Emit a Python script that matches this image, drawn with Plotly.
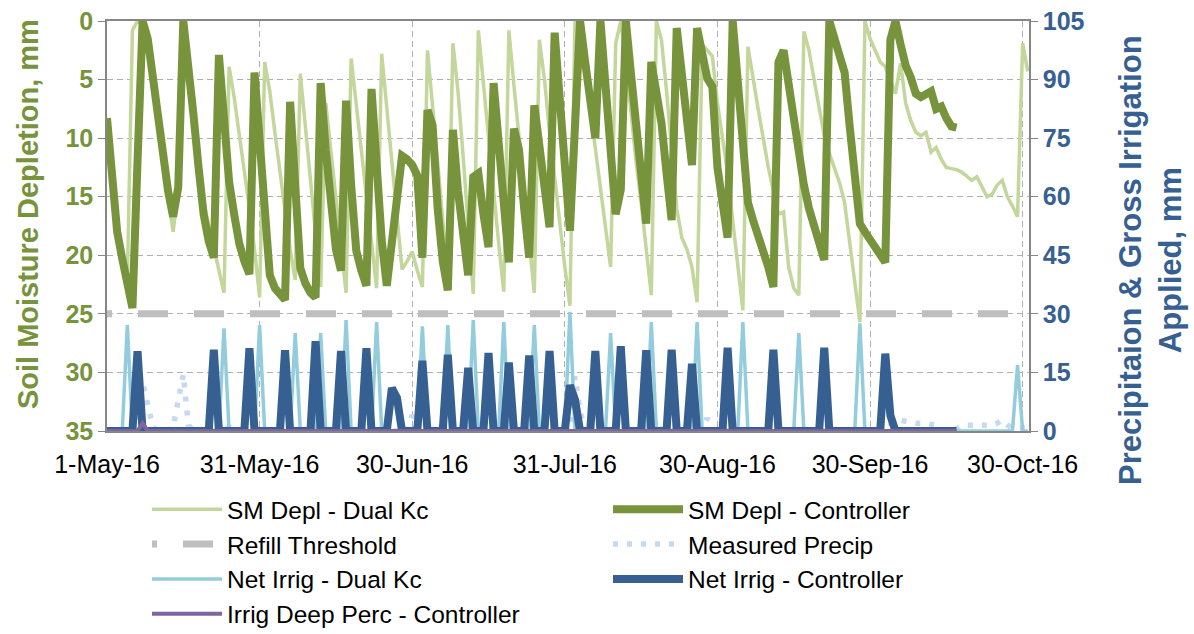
import plotly.graph_objects as go

# ---------------- data ----------------
tick_positions = [0, 30, 60, 90, 120, 150, 180]
tick_labels = ["1-May-16", "31-May-16", "30-Jun-16", "31-Jul-16",
               "30-Aug-16", "30-Sep-16", "30-Oct-16"]

# Soil moisture depletion, mm (left axis) - one value per day
sm_depl_dual = [8.3, 14, 18, 20.3, 22, 0.8, 0, 0.3, 2, 5.5,
                9, 12, 15, 18, 14.5, 0, 3.5, 8, 12, 15.5,
                17.5, 19.3, 21.3, 23.2, 3.9, 6.5, 9.7, 12.7, 16, 19.5,
                23.6, 3.5, 6, 9.5, 13, 16.5, 19.5, 22.1, 4.5, 9,
                13.5, 18, 22.7, 7, 11, 15, 19, 23.2, 3.2, 7,
                11, 15, 19, 22.8, 2.8, 7.4, 12, 16.6, 21.2, 20.5,
                19.7, 21.3, 22.7, 2.5, 7, 12, 17, 22, 1.9, 6,
                11.5, 17.5, 23.3, 0.8, 5.5, 10, 14.5, 19, 23.1, 0.8,
                5.5, 10, 14.5, 19, 23.2, 1.6, 5, 9.5, 13.5, 17.5,
                21, 24.3, 0, 1.5, 4, 7.5, 11, 14.5, 18, 21,
                1.9, 0, 3.5, 8, 12, 15.5, 19.5, 23.4, 0, 1.6,
                6, 11, 16, 18.5, 19.5, 21, 24, 2, 2.5, 3,
                7, 10, 13, 17, 21, 24.7, 2.2, 5, 7.5, 10,
                12.5, 14.5, 16.5, 16.3, 21, 22.8, 23.4, 0.9, 2.5, 5,
                7.5, 9.8, 11.3, 12.5, 13.8, 15.5, 19, 22.5, 25.7, 0,
                1.5, 2.5, 3.5, 3.9, 5, 6.2, 3.6, 7, 8.5, 9.5,
                9.8, 9.5, 11.2, 10.8, 11.8, 12.5, 12.6, 12.7, 12.9, 13.3,
                13.6, 13.3, 14.2, 15, 14.8, 14, 13.6, 15, 15.8, 16.7,
                1.9, 4.3]

sm_depl_ctrl = [8.3, 14, 18, 20.3, 22.5, 24.5, 12, 0, 1.5, 5,
                8.5, 11.5, 14.5, 16.7, 14.2, 0, 3.5, 8, 12.5, 16.5,
                18.8, 20.2, 2.9, 8.5, 13.7, 16.5, 19, 20.5, 21.6, 4.4,
                10, 16, 21.7, 22.8, 23.4, 23.8, 6.9, 14, 21.1, 22.4,
                23.2, 23.6, 5.3, 11, 16.2, 19.5, 21.3, 6.8, 14, 19.6,
                21.3, 22.6, 5.8, 13, 18.7, 22.6, 18.5, 14.4, 11.5, 11.8,
                12.3, 13.2, 20.2, 7.6, 8.9, 16, 20.5, 23, 9.3, 14.5,
                18.5, 21.7, 13.3, 13, 16.5, 19.3, 5.3, 11, 16, 20.6,
                9.2, 11, 16, 20.2, 7.2, 11, 14.5, 17.6, 1.0, 7,
                12.5, 17.9, 9, 0, 3.5, 7, 10, 0, 5.5, 11,
                16.5, 14.4, 0, 4.5, 9, 13, 17.3, 3.5, 6, 8.7,
                13, 17, 0.6, 4.5, 8.5, 12.3, 0.6, 3, 4.9, 5.6,
                12.5, 15.5, 18.5, 0, 5, 10, 15.5, 17, 18.3, 19.2,
                21, 22.7, 3.5, 2.5, 5.5, 8.7, 11.8, 14, 16, 17.5,
                19, 20.4, 0, 1.5, 3, 4.4, 9, 13.5, 17.3, 18,
                18.6, 19.3, 20, 20.6, 1.6, 0, 2, 3.8, 4.8, 6.2,
                6.5, 6.3, 6.0, 7.5, 7.3, 8.3, 9, 9.1]

refill_threshold_mm = 25

# Right axis (mm): event days and amounts, zero on all other days
precip_days = [7, 8, 9, 12, 13, 14, 15, 16, 24, 60, 92, 93, 108, 118,
               154, 155, 156, 157, 158, 159, 160, 161, 162, 163, 164,
               167, 168, 169, 170, 171, 172, 173, 174, 175, 176, 177,
               178, 179, 180, 181]
precip_mm = [12.5, 6.5, 1, 0.3, 1, 8, 14.5, 1.5, 1, 4.1, 14, 5, 2, 3.3,
             1.5, 2.3, 2.8, 2.5, 2.2, 2, 2, 1.8, 1.6, 1.5, 0.5,
             0.5, 1.5, 1.5, 1.5, 1.5, 1.5, 1.5, 1.5, 2, 2.8, 1.5,
             0.8, 0.8, 0.8, 0.8]

irrig_dual_days = [4, 23, 30, 37, 42, 47, 53, 62, 67, 72, 78, 84, 91, 99,
                   107, 116, 125, 136, 148, 179]
irrig_dual_mm = [27.1, 26.3, 27.1, 25.1, 25.1, 28.4, 27.9, 26.8, 27.1, 28.4,
                 27.9, 27.1, 30.5, 25.1, 27.9, 27.9, 27.9, 25.1, 27.6, 16.9]

irrig_ctrl_days = [6, 21, 28, 35, 41, 46, 51, 56, 57, 62, 67, 71, 75, 79,
                   83, 87, 91, 92, 96, 101, 106, 111, 115, 122, 131, 141,
                   153, 154]
irrig_ctrl_mm = [20.4, 20.8, 21.2, 20.7, 23, 20.5, 21.2, 11, 8.5, 18, 19.5,
                 16.2, 20, 17.5, 19.3, 20.5, 11.7, 8, 20.5, 21.7, 20.7,
                 20.8, 17.2, 21.3, 20.8, 21.3, 19.8, 4]

deep_perc_days = [7]
deep_perc_mm = [2]

# ---------------- build full daily series ----------------
n_dual = len(sm_depl_dual)
n_ctrl = len(sm_depl_ctrl)
days_dual = list(range(n_dual))
days_ctrl = list(range(n_ctrl))


def daily(n, days, vals):
    out = [0.0] * n
    for d, v in zip(days, vals):
        out[d] = v
    return out


precip = daily(n_dual, precip_days, precip_mm)
irrig_dual = daily(n_dual, irrig_dual_days, irrig_dual_mm)
irrig_ctrl = daily(n_ctrl, irrig_ctrl_days, irrig_ctrl_mm)
deep_perc = daily(n_ctrl, deep_perc_days, deep_perc_mm)
threshold = [refill_threshold_mm] * n_dual

C_LG = "#c3d69b"
C_DG = "#77933c"
C_GRAY = "#bfbfbf"
C_PRE = "#c6d9f1"
C_LB = "#93cddd"
C_DB = "#376092"
C_PU = "#8064a2"

thr_dash = "5px,26px," + ",".join(["30px,26px"] * 18)

fig = go.Figure()
fig.add_trace(go.Scatter(x=days_dual, y=sm_depl_dual, mode="lines",
                         name="SM Depl - Dual Kc", legend="legend",
                         line=dict(color=C_LG, width=3.5)))
fig.add_trace(go.Scatter(x=days_ctrl, y=sm_depl_ctrl, mode="lines",
                         name="SM Depl - Controller", legend="legend2",
                         line=dict(color=C_DG, width=8)))
fig.add_trace(go.Scatter(x=days_dual, y=threshold, mode="lines",
                         name="Refill Threshold", legend="legend",
                         line=dict(color=C_GRAY, width=7, dash=thr_dash)))
fig.add_trace(go.Scatter(x=days_dual, y=precip, mode="lines", yaxis="y2",
                         name="Measured Precip", legend="legend2",
                         line=dict(color=C_PRE, width=5.5, dash="5px,9px")))
fig.add_trace(go.Scatter(x=days_dual, y=irrig_dual, mode="lines", yaxis="y2",
                         name="Net Irrig - Dual Kc", legend="legend",
                         line=dict(color=C_LB, width=3.5)))
fig.add_trace(go.Scatter(x=days_ctrl, y=irrig_ctrl, mode="lines", yaxis="y2",
                         name="Net Irrig - Controller", legend="legend2",
                         line=dict(color=C_DB, width=8)))
fig.add_trace(go.Scatter(x=days_ctrl, y=deep_perc, mode="lines", yaxis="y2",
                         name="Irrig Deep Perc - Controller", legend="legend",
                         line=dict(color=C_PU, width=4)))

GRID = "#b0b0b0"
AXL = "#868686"
FONT = "Liberation Sans, Arial, sans-serif"

leg_common = dict(orientation="v", xanchor="left", yanchor="top",
                  bgcolor="rgba(0,0,0,0)", font=dict(size=24.5, color="black"),
                  itemwidth=70, tracegroupgap=0)

fig.update_layout(
    width=1194, height=634,
    margin=dict(l=107, r=165, t=21, b=203, autoexpand=False),
    plot_bgcolor="white", paper_bgcolor="white",
    font=dict(family=FONT, size=24, color="black"),
    showlegend=True,
    xaxis=dict(range=[0, 181.25], tickvals=tick_positions, ticktext=tick_labels,
               showgrid=True, gridcolor=GRID, griddash="6px,4px", gridwidth=1.3,
               showline=True, linecolor=AXL, linewidth=1.5, mirror=True,
               ticks="outside", ticklen=10, tickcolor="rgba(0,0,0,0)",
               tickfont=dict(size=25, color="black"), zeroline=False),
    yaxis=dict(range=[35, 0], tickvals=[0, 5, 10, 15, 20, 25, 30, 35],
               showgrid=True, gridcolor=GRID, griddash="6px,4px", gridwidth=1.3,
               showline=True, linecolor=AXL, linewidth=1.5,
               ticks="outside", ticklen=7, tickcolor=AXL,
               tickfont=dict(size=25, color=C_DG, weight="bold"), zeroline=False),
    yaxis2=dict(range=[0, 105], tickvals=[0, 15, 30, 45, 60, 75, 90, 105],
                overlaying="y", side="right", showgrid=False,
                showline=True, linecolor=AXL, linewidth=1.5,
                ticks="outside", ticklen=7, tickcolor=AXL,
                tickfont=dict(size=25, color=C_DB, weight="bold"), zeroline=False),
    legend=dict(x=0.0434, y=-0.136, **leg_common),
    legend2=dict(x=0.5434, y=-0.136, **leg_common),
    annotations=[
        dict(text="Soil Moisture Depletion, mm", xref="paper", yref="paper",
             x=-0.0857, y=0.529, xanchor="center", yanchor="middle",
             textangle=-90, showarrow=False,
             font=dict(size=29, color=C_DG, weight="bold")),
        dict(text="Precipitaion & Gross Irrigation<br>Applied, mm",
             xref="paper", yref="paper", x=1.1312, y=0.417,
             xanchor="center", yanchor="middle", textangle=-90, showarrow=False,
             font=dict(size=31, color=C_DB, weight="bold")),
    ],
)

fig.write_html("out.html", config={"displayModeBar": False},
               post_script="document.body.style.margin='0px';")
